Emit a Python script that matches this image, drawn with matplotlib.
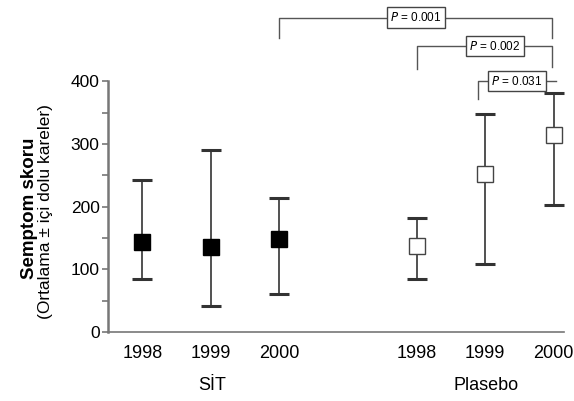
import matplotlib
matplotlib.use('Agg')
import numpy as np
import matplotlib.pyplot as plt

plt.rcParams['font.family'] = ['Liberation Sans', 'DejaVu Sans']

# --- data ---
years = ['1998', '1999', '2000']
groups = ['SİT', 'Plasebo']
sit_mean = [144, 136, 148]
sit_low = [84, 41, 61]
sit_high = [243, 291, 214]
pla_mean = [137, 253, 314]
pla_low = [84, 109, 202]
pla_high = [182, 348, 382]
brackets = [  # (left idx, right idx, label)
    (2, 5, 'P = 0.001'),
    (3, 5, 'P = 0.002'),
    (4, 5, 'P = 0.031'),
]

sit_x = np.array([0, 1, 2])
pla_x = np.array([4, 5, 6])
all_x = np.concatenate([sit_x, pla_x])

fig = plt.figure(figsize=(5.74, 4.01), dpi=100)
ax = fig.add_axes([108 / 574, 1 - 332 / 401, (564 - 108) / 574, 332 / 401])
ax.set_xlim(-0.5, 6.15)
ax.set_ylim(0, 530)

LINE = '#333333'

def draw(xs, mean, low, high, face):
    mean = np.array(mean)
    err = [mean - np.array(low), np.array(high) - mean]
    ax.errorbar(xs, mean, yerr=err, fmt='none', ecolor=LINE, elinewidth=1.2,
                capsize=7, capthick=2.2, zorder=2)
    ax.plot(xs, mean, 's', ms=12 if face == 'black' else 11.5, mfc=face,
            mec='black' if face == 'black' else '#444444', mew=1.0, zorder=3)

draw(sit_x, sit_mean, sit_low, sit_high, 'black')
draw(pla_x, pla_mean, pla_low, pla_high, 'white')

# significance brackets: (top, left drop, right drop, label x offset)
levels = [(502, 470, 470, 0.0), (456, 420, 423, 0.15), (400, 372, 400, 0.0)]
for (li, ri, lab), (top, ldrop, rdrop, off) in zip(brackets, levels):
    xl = all_x[li] - (0.1 if li == 4 else 0)
    xr = all_x[ri] - 0.02 + (0.05 if li == 4 else 0)
    ax.plot([xl, xl, xr, xr], [ldrop, top, top, rdrop], color='#555555',
            lw=1.0, clip_on=False, zorder=1)
    xm = (xl + xr) / 2 + off
    ax.text(xm, top, r'$P$' + lab[1:], fontsize=8.5, ha='center', va='center',
            bbox=dict(boxstyle='square,pad=0.3', fc='white', ec='#444444', lw=1.0),
            zorder=4)

# axes styling
for s in ['top', 'right']:
    ax.spines[s].set_visible(False)
ax.spines['left'].set_bounds(0, 400)
ax.spines['left'].set_color('#777777')
ax.spines['left'].set_linewidth(1.8)
ax.spines['bottom'].set_color('#777777')
ax.spines['bottom'].set_linewidth(1.2)

ax.set_yticks([0, 100, 200, 300, 400])
ax.set_yticks([50, 150, 250, 350], minor=True)
ax.tick_params(axis='y', which='both', direction='out', length=4, width=1.2,
               color='#777777', labelsize=12.5, pad=2)
ax.set_xticks(all_x)
ax.set_xticklabels(years + years, fontsize=13)
ax.tick_params(axis='x', length=0, pad=9)

fig.text(212 / 574, 1 - 386 / 401, groups[0], fontsize=13, ha='center', va='center')
fig.text(486 / 574, 1 - 386 / 401, groups[1], fontsize=13, ha='center', va='center')

fig.text(30 / 574, 1 - 208 / 401, 'Semptom skoru', fontsize=13.5, fontweight='bold',
         rotation=90, ha='center', va='center')
fig.text(46 / 574, 1 - 212 / 401, '(Ortalama ± içi dolu kareler)', fontsize=12.5,
         rotation=90, ha='center', va='center')

fig.savefig('out.png', dpi=100)
